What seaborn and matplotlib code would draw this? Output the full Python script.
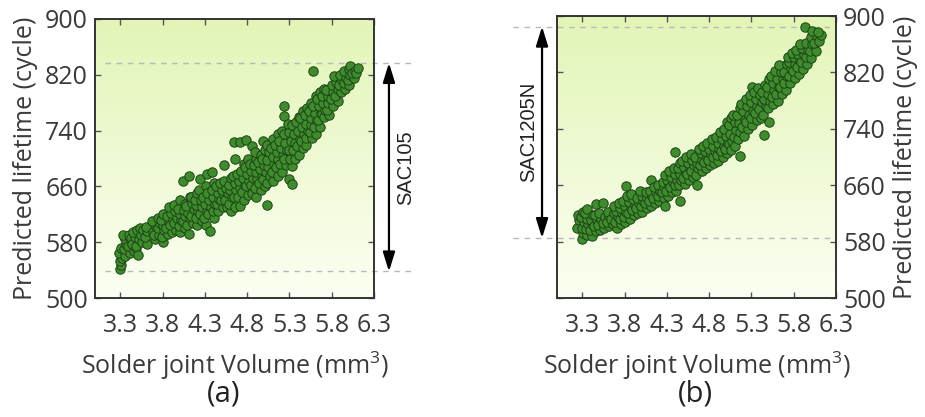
import numpy as np
import pandas as pd
import matplotlib
matplotlib.use("Agg")
import matplotlib.pyplot as plt
from matplotlib.colors import LinearSegmentedColormap
import seaborn as sns

# ---------------- data ----------------
vol_a = [3.29, 3.31, 3.30, 3.32, 3.28, 3.31,
         3.36, 3.34, 3.37, 3.35, 3.33,
         3.41, 3.39, 3.42, 3.40, 3.43,
         3.46, 3.44, 3.47, 3.45, 3.48,
         3.51, 3.49, 3.52, 3.50, 3.53,
         3.56, 3.54, 3.57,
         3.61, 3.59, 3.62, 3.60,
         3.71, 3.69, 3.72, 3.68, 3.70,
         3.76, 3.74, 3.77, 3.75,
         3.81, 3.79, 3.82, 3.80, 3.78, 3.81,
         3.86, 3.84, 3.87, 3.85,
         3.91, 3.89, 3.92, 3.90, 3.88,
         3.96, 3.94, 3.97, 3.95, 3.93,
         4.01, 3.99, 4.02, 4.00, 3.98, 4.01,
         4.06, 4.04, 4.07, 4.05, 4.04, 4.06,
         4.11, 4.09, 4.12, 4.10, 4.08, 4.11, 4.12,
         4.16, 4.14, 4.17, 4.15, 4.13,
         4.21, 4.19, 4.22, 4.20, 4.18, 4.21,
         4.26, 4.24, 4.27, 4.25, 4.23, 4.24,
         4.31, 4.29, 4.32, 4.30, 4.28, 4.31, 4.32,
         4.36, 4.34, 4.37, 4.35, 4.33, 4.38,
         4.41, 4.39, 4.42, 4.40, 4.38, 4.41,
         4.46, 4.44, 4.47, 4.45, 4.43,
         4.51, 4.49, 4.52, 4.50, 4.48, 4.52,
         4.56, 4.54, 4.57, 4.55, 4.53,
         4.61, 4.59, 4.62, 4.60, 4.58, 4.61,
         4.66, 4.64, 4.67, 4.65, 4.63, 4.65, 4.64,
         4.71, 4.69, 4.72, 4.70, 4.68, 4.71,
         4.76, 4.74, 4.77, 4.75, 4.73, 4.76,
         4.81, 4.79, 4.82, 4.80, 4.78, 4.79, 4.81,
         4.86, 4.84, 4.87, 4.85, 4.83, 4.86,
         4.91, 4.89, 4.92, 4.90, 4.88, 4.91, 4.89,
         4.96, 4.94, 4.97, 4.95, 4.93, 4.96,
         5.01, 4.99, 5.02, 5.00, 4.98, 5.01, 4.99,
         5.03, 5.04, 5.07, 5.05, 5.03, 5.06, 5.04,
         5.11, 5.09, 5.12, 5.10, 5.08, 5.11,
         5.16, 5.14, 5.17, 5.15, 5.13, 5.16,
         5.21, 5.19, 5.22, 5.20, 5.18, 5.21,
         5.26, 5.24, 5.27, 5.25, 5.23, 5.24, 5.24,
         5.29, 5.33, 5.33, 5.31, 5.29, 5.32, 5.30, 5.28,
         5.36, 5.34, 5.37, 5.35, 5.33,
         5.41, 5.39, 5.42, 5.40, 5.38, 5.41,
         5.46, 5.44, 5.47, 5.45, 5.43, 5.46,
         5.50, 5.49, 5.52, 5.50, 5.48, 5.51,
         5.57, 5.54, 5.56, 5.55, 5.53, 5.56,
         5.61, 5.59, 5.62, 5.60, 5.58, 5.61, 5.58,
         5.66, 5.64, 5.67, 5.65, 5.63, 5.66,
         5.69, 5.71, 5.72, 5.70, 5.68, 5.71,
         5.77, 5.74, 5.76, 5.75, 5.73,
         5.81, 5.79, 5.82, 5.80,
         5.88, 5.84, 5.87, 5.85, 5.83,
         5.91, 5.89, 5.92, 5.90,
         5.96, 5.94, 5.97, 5.95,
         6.01, 5.99, 6.02, 6.00, 6.02,
         6.06, 6.04, 6.07,
         6.09, 6.11]
life_a = [542, 548, 553, 557, 565, 572,
          560, 570, 578, 585, 590,
          565, 575, 582, 590, 586,
          568, 578, 588, 595, 572,
          562, 575, 585, 598, 600,
          580, 590, 597,
          578, 588, 596, 602,
          585, 595, 603, 610, 590,
          590, 600, 608, 614,
          580, 588, 598, 605, 612, 620,
          592, 600, 610, 618,
          595, 605, 612, 622, 630,
          598, 607, 615, 625, 633,
          595, 603, 612, 620, 628, 640,
          600, 610, 618, 626, 668, 635,
          592, 605, 615, 622, 632, 675, 645,
          608, 618, 628, 636, 645,
          605, 615, 625, 633, 640, 650,
          610, 620, 630, 640, 655, 671,
          605, 615, 625, 635, 645, 660, 678,
          596, 620, 630, 640, 650, 681,
          615, 625, 635, 645, 655, 665,
          625, 635, 642, 650, 660,
          630, 640, 648, 655, 665, 690,
          630, 640, 650, 658, 668,
          625, 635, 645, 655, 662, 672,
          630, 645, 655, 665, 675, 700, 723,
          632, 645, 658, 668, 678, 723,
          640, 652, 662, 672, 682, 692,
          648, 660, 668, 678, 688, 726, 700,
          650, 662, 672, 682, 692, 718,
          645, 658, 670, 680, 690, 700, 710,
          655, 665, 675, 685, 695, 705,
          660, 670, 680, 690, 700, 712, 725,
          634, 665, 675, 688, 698, 710, 720,
          668, 680, 692, 702, 715, 728,
          675, 688, 700, 710, 720, 735,
          680, 692, 705, 715, 725, 740,
          690, 700, 712, 722, 735, 761, 775,
          671, 664, 689, 700, 712, 725, 738, 750,
          700, 712, 722, 735, 748,
          705, 718, 728, 740, 752, 760,
          715, 725, 735, 745, 758, 768,
          719, 730, 740, 750, 762, 772,
          729, 738, 748, 758, 768, 780,
          735, 745, 755, 765, 775, 790, 826,
          745, 755, 765, 775, 785, 795,
          764, 760, 770, 780, 790, 800,
          763, 770, 780, 790, 798,
          775, 785, 795, 805,
          783, 790, 800, 810, 818,
          795, 805, 812, 820,
          800, 808, 815, 825,
          805, 812, 820, 828, 832,
          815, 822, 826,
          822, 830]

vol_b = [3.24, 3.26, 3.25,
         3.29, 3.31, 3.30, 3.32, 3.28, 3.31,
         3.36, 3.34, 3.37, 3.35, 3.33, 3.36,
         3.41, 3.39, 3.42, 3.40, 3.43,
         3.46, 3.44, 3.47, 3.45, 3.46,
         3.51, 3.49, 3.52, 3.50, 3.54,
         3.56, 3.54, 3.57,
         3.61, 3.59, 3.62, 3.60,
         3.66, 3.64, 3.67,
         3.71, 3.69, 3.72, 3.70, 3.68,
         3.76, 3.74, 3.77, 3.75, 3.73,
         3.81, 3.79, 3.82, 3.80, 3.78, 3.82,
         3.86, 3.84, 3.87, 3.85, 3.83,
         3.91, 3.89, 3.92, 3.90, 3.88,
         3.96, 3.94, 3.97, 3.95,
         4.01, 3.99, 4.02, 4.00, 3.98,
         4.06, 4.04, 4.07, 4.05,
         4.11, 4.09, 4.12, 4.10, 4.11,
         4.16, 4.14, 4.17, 4.15,
         4.21, 4.19, 4.22, 4.20,
         4.26, 4.24, 4.27, 4.25, 4.28,
         4.31, 4.29, 4.32, 4.30, 4.28,
         4.36, 4.34, 4.37, 4.35, 4.33,
         4.41, 4.39, 4.42, 4.40, 4.38, 4.39,
         4.45, 4.44, 4.47, 4.45, 4.43, 4.46,
         4.51, 4.49, 4.52, 4.50, 4.48,
         4.56, 4.54, 4.57, 4.55, 4.53,
         4.61, 4.59, 4.62, 4.60, 4.58,
         4.65, 4.64, 4.67, 4.65, 4.63,
         4.71, 4.69, 4.72, 4.70, 4.68,
         4.76, 4.74, 4.77, 4.75, 4.73,
         4.81, 4.79, 4.82, 4.80, 4.78,
         4.86, 4.84, 4.87, 4.85, 4.83,
         4.91, 4.89, 4.92, 4.90, 4.88,
         4.96, 4.94, 4.97, 4.95, 4.93,
         5.01, 4.99, 5.02, 5.00, 4.98, 5.01,
         5.04, 5.06, 5.07, 5.05, 5.03, 5.06,
         5.11, 5.09, 5.12, 5.10, 5.08,
         5.16, 5.14, 5.17, 5.15, 5.13, 5.16,
         5.21, 5.19, 5.22, 5.20, 5.18,
         5.26, 5.24, 5.27, 5.25, 5.23,
         5.31, 5.29, 5.32, 5.30, 5.28, 5.31,
         5.36, 5.34, 5.37, 5.35, 5.33,
         5.41, 5.39, 5.42, 5.40, 5.38,
         5.45, 5.44, 5.47, 5.45, 5.43, 5.46,
         5.51, 5.49, 5.52, 5.50, 5.48, 5.51,
         5.56, 5.54, 5.57, 5.55, 5.53,
         5.61, 5.59, 5.62, 5.60, 5.58,
         5.66, 5.64, 5.67, 5.65, 5.63,
         5.71, 5.69, 5.72, 5.68, 5.72,
         5.76, 5.74, 5.77, 5.75, 5.73,
         5.81, 5.79, 5.82, 5.80, 5.78,
         5.86, 5.84, 5.87, 5.85, 5.83,
         5.91, 5.89, 5.92, 5.90, 5.88,
         5.96, 5.94, 5.97, 5.95, 5.93,
         6.01, 5.99, 6.02, 6.00,
         6.06, 6.04, 6.07, 6.02,
         6.10, 6.12, 6.09]
life_b = [600, 610, 618,
          584, 592, 600, 608, 615, 622,
          590, 598, 605, 612, 620, 626,
          588, 596, 603, 610, 618,
          595, 602, 610, 618, 634,
          596, 604, 612, 620, 635,
          600, 607, 615,
          602, 608, 616, 622,
          605, 612, 620,
          600, 608, 615, 623, 630,
          605, 612, 620, 628, 635,
          608, 615, 622, 630, 638, 659,
          612, 620, 628, 636, 645,
          618, 625, 632, 640, 648,
          620, 628, 635, 642,
          622, 630, 638, 645, 652,
          628, 635, 642, 650,
          630, 638, 645, 652, 668,
          635, 642, 650, 658,
          638, 645, 652, 660,
          642, 650, 658, 665, 631,
          645, 652, 660, 668, 675,
          650, 658, 665, 672, 680,
          652, 660, 668, 676, 685, 707,
          638, 660, 668, 676, 684, 692,
          662, 670, 678, 686, 695,
          668, 676, 684, 692, 700,
          672, 680, 688, 696, 704,
          660, 675, 684, 692, 700,
          680, 688, 696, 705, 712,
          685, 693, 700, 708, 716,
          688, 696, 704, 712, 720,
          692, 700, 708, 716, 725,
          695, 703, 712, 720, 728,
          700, 708, 716, 725, 735,
          705, 712, 720, 730, 740, 750,
          719, 710, 722, 732, 745, 755,
          715, 728, 738, 750, 760,
          702, 725, 735, 748, 760, 770,
          730, 742, 752, 765, 775,
          740, 750, 760, 772, 782,
          745, 755, 765, 778, 788, 799,
          752, 762, 772, 782, 792,
          755, 768, 778, 788, 798,
          731, 760, 772, 782, 792, 802,
          750, 770, 780, 790, 800, 810,
          775, 785, 795, 805, 815,
          780, 790, 800, 810, 822,
          790, 800, 810, 820, 830,
          795, 805, 815, 821, 832,
          805, 815, 825, 835, 842,
          812, 822, 832, 842, 848,
          818, 828, 838, 846, 852,
          825, 835, 845, 855, 860,
          832, 842, 852, 862, 884,
          840, 850, 860, 870,
          850, 862, 872, 879,
          865, 873, 878]

x_ticks = [3.3, 3.8, 4.3, 4.8, 5.3, 5.8, 6.3]
y_ticks = [500, 580, 660, 740, 820, 900]
range_a = [538, 837]   # SAC105
range_b = [585, 885]   # SAC1205N
alloy_a = "SAC105"
alloy_b = "SAC1205N"

# ---------------- style ----------------
sns.set_style("ticks")
plt.rcParams['font.family'] = ['Open Sans', 'DejaVu Sans']
plt.rcParams['mathtext.fontset'] = 'custom'
plt.rcParams['mathtext.rm'] = 'Open Sans'

TXT = '#3a3a3a'
FS = 18
fig = plt.figure(figsize=(9.25, 4.17), dpi=100)
ax_a = fig.add_axes([95/925, 1-298/417, 279/925, 279/417])
ax_b = fig.add_axes([557/925, 1-298/417, 279/925, 282/417])

cmap = LinearSegmentedColormap.from_list('bg', ['#fbfff2', '#e2f5b6'])
grad = np.linspace(0, 1, 256).reshape(-1, 1)

def style(ax, vol, life, right=False):
    df = pd.DataFrame({'vol': vol, 'life': life})
    ax.imshow(grad, cmap=cmap, origin='lower', aspect='auto',
              extent=[3.0, 6.3, 500, 900], zorder=0)
    sns.scatterplot(data=df, x='vol', y='life', ax=ax, s=46,
                    color='#3f8c2e', edgecolor='#1c4414', linewidth=0.7,
                    zorder=3, legend=False)
    ax.set_xlim(3.0, 6.3)
    ax.set_ylim(500, 900)
    ax.set_xticks(x_ticks)
    ax.set_yticks(y_ticks)
    ax.set_xticklabels([f"{t:.1f}" for t in x_ticks])
    ax.set_yticklabels([str(t) for t in y_ticks])
    ax.tick_params(direction='in', length=4, width=1, top=True, right=True,
                   left=True, bottom=True, labelsize=FS, colors='#555555',
                   labelcolor=TXT)
    ax.tick_params(axis='x', pad=11)
    ax.tick_params(axis='y', pad=5)
    if right:
        ax.yaxis.tick_right()
        ax.tick_params(left=True, right=True, labelleft=False, labelright=True)
        ax.yaxis.set_label_position('right')
    for sp in ax.spines.values():
        sp.set_color('#333333')
        sp.set_linewidth(1.4)
        sp.set_visible(True)
    ax.set_xlabel('Solder joint Volume (mm$^3$)', fontsize=FS, color=TXT,
                  labelpad=8)
    ax.set_ylabel('Predicted lifetime (cycle)', fontsize=FS, color=TXT,
                  labelpad=5)

style(ax_a, vol_a, life_a)
style(ax_b, vol_b, life_b, right=True)

# reference range lines and arrows
def range_marker(ax, rng, x0, x1, xarr, xtxt, label):
    for v in rng:
        ax.plot([x0, x1], [v, v], ls=(0, (4, 4)), color='#b8b8b8', lw=1,
                clip_on=False, zorder=2)
    ax.annotate('', xy=(xarr, rng[1]), xytext=(xarr, rng[0]),
                xycoords='data', textcoords='data', annotation_clip=False,
                arrowprops=dict(arrowstyle='<|-|>,head_length=0.9,head_width=0.28',
                                color='black', lw=1.6, shrinkA=0, shrinkB=0,
                                mutation_scale=13))
    ax.text(xtxt, sum(rng)/2, label,
            rotation=90, ha='center', va='center', fontsize=14.5,
            family=['Liberation Sans', 'DejaVu Sans'], color='#222222',
            clip_on=False)

range_marker(ax_a, range_a, 3.12, 6.76, 6.477, 6.67, alloy_a)
range_marker(ax_b, range_b, 2.48, 6.3, 2.823, 2.66, alloy_b)

fig.text(224/925, 1-394/417, '(a)', fontsize=21, ha='center', va='center',
         color='#222222')
fig.text(695/925, 1-394/417, '(b)', fontsize=21, ha='center', va='center',
         color='#222222')

fig.savefig('out.png', dpi=100)
